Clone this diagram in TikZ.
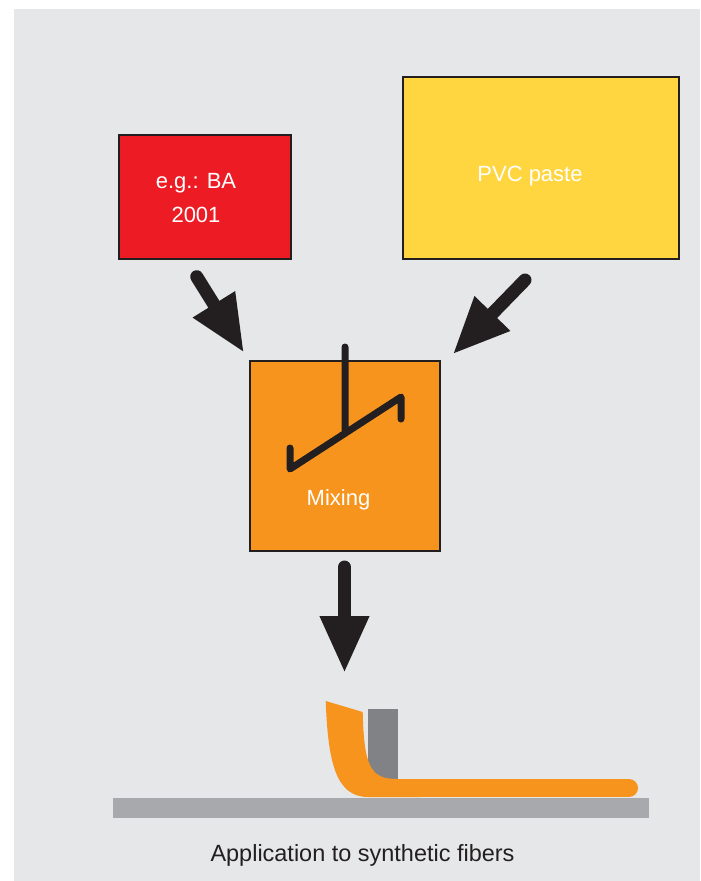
\documentclass[tikz,border=0pt]{standalone}
\usepackage{fontspec}
\setmainfont{Liberation Sans}
\usetikzlibrary{arrows.meta,positioning}

\definecolor{panelgray}{HTML}{E6E7E8}
\definecolor{inkblack}{HTML}{231F20}
\definecolor{bared}{HTML}{ED1C24}
\definecolor{pasteyellow}{HTML}{FFD63F}
\definecolor{mixorange}{HTML}{F7941D}
\definecolor{fabricgray}{HTML}{A7A9AC}
\definecolor{bladegray}{HTML}{808285}

\begin{document}
\begin{tikzpicture}[x=0.75pt,y=-0.75pt,
    box/.style={draw=inkblack, line width=1.5pt, inner sep=0pt},
    lbl/.style={text=white, font=\fontsize{16.5}{26}\selectfont, align=center},
    fatarrow/.style={draw=inkblack, line width=9.75pt, line cap=round,
      -{Triangle[length=42.75pt,width=34.5pt]}}]

    \fill[white] (0,0) rectangle (700,881);
    \useasboundingbox (0,0) rectangle (700,881);
    \fill[panelgray] (14,9) rectangle (700,881);

    % ingredients and mixer
    \node[box, fill=bared, minimum width=129pt, minimum height=93pt] (ba) at (205,197) {};
    \node[box, fill=pasteyellow, minimum width=207pt, minimum height=136.5pt] (pvc) at (541,168) {};
    \node[box, fill=mixorange, minimum width=142.5pt, minimum height=142.5pt] (mix) at (345,456) {};

    \node[lbl] (batext) at (196,198) {e.g.: BA\\2001};
    \node[lbl, anchor=base] (pvctext) at (530,181) {PVC paste};
    \node[lbl, anchor=base] (mixtext) at (338.5,505.7) {Mixing};

    % stirrer
    \draw[inkblack, line width=5.25pt, line cap=round, line join=round]
      (345,347) -- (345,430)
      (290,448) -- (290,469) -- (401,397) -- (401,419);

    % arrow ends
    \coordinate (baout) at (196.7,276.7);
    \coordinate (bain) at (244,352.7);
    \coordinate (pvcout) at (525,280);
    \coordinate (pvcin) at (452.7,354.3);
    \coordinate (mixout) at (344.5,567);
    \coordinate (mixin) at (344.5,673);

    \draw[fatarrow] (baout) -- (bain);
    \draw[fatarrow] (pvcout) -- (pvcin);
    \draw[fatarrow] (mixout) -- (mixin);

    % coated fabric
    \fill[fabricgray] (113,798) rectangle (649,818);
    \fill[bladegray] (368,709) rectangle (398,781);
    \fill[mixorange] (325.7,701) -- (362.7,712)
      .. controls (364,770) and (372,779) .. (398,779) -- (420,779)
      -- (420,797) -- (368,797)
      .. controls (335,797) and (328,760) .. (325.7,701) -- cycle;
    \draw[mixorange, line width=13.5pt, line cap=round] (400,788) -- (629,788);

    \node[text=inkblack, font=\fontsize{17.6}{20}\selectfont, anchor=base] (caption)
      at (362.5,861.7) {Application to synthetic fibers};
\end{tikzpicture}
\end{document}
